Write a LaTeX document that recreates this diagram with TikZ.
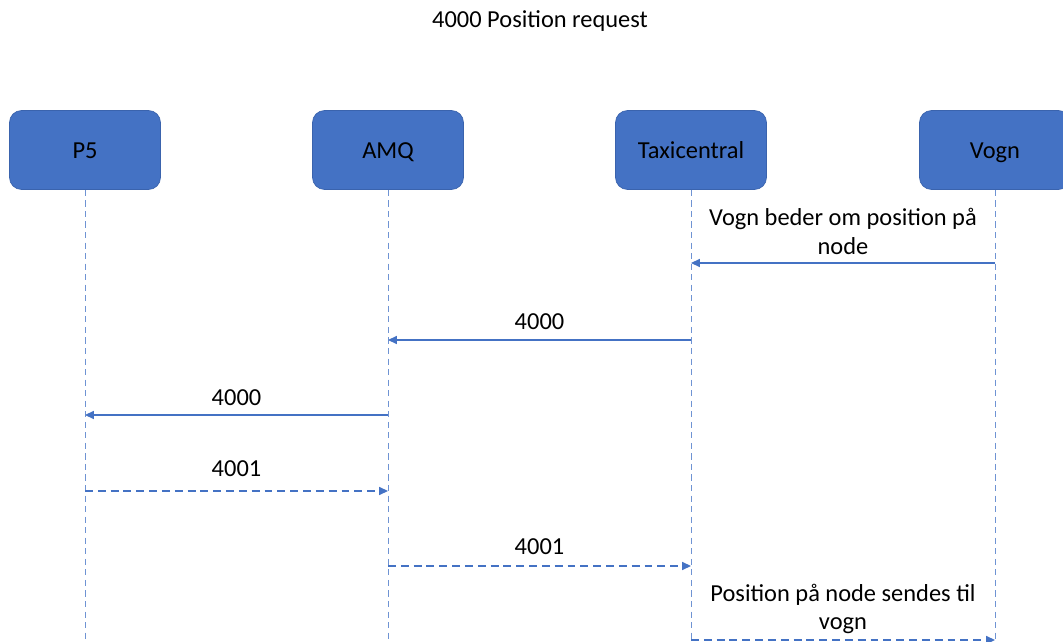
\documentclass[tikz,border=0pt]{standalone}
\usepackage{fontspec}
\setmainfont{Carlito}
\usetikzlibrary{arrows.meta,positioning}
\definecolor{boxblue}{HTML}{4472C4}
\definecolor{boxedge}{HTML}{3A63AD}
\definecolor{lifeblue}{HTML}{6F93D3}

\begin{document}
\begin{tikzpicture}[x=0.02cm,y=-0.02cm]
\tikzstyle{every node}+=[font=\fontsize{13.9}{16.2}\selectfont]
\tikzstyle{actor}=[draw=boxedge, fill=boxblue, rounded corners=0.24cm, minimum width=3.02cm, minimum height=1.58cm, inner sep=0pt, text height=10pt, text depth=0.4pt]
\tikzstyle{lifeline}=[lifeblue, line width=0.5pt, dash pattern=on 3.5pt off 2.5pt]
\tikzstyle{msg}=[boxblue, line width=0.85pt, -{Triangle[length=5pt,width=4.5pt]}]
\tikzstyle{reply}=[msg, dash pattern=on 4.5pt off 2.8pt]
\tikzstyle{lbl}=[black, above, inner sep=5pt, align=center]
\useasboundingbox (0,0) rectangle (1063,642);

\node (title) at (540,21) {4000 Position request};

% actors
\node[actor] (p5) at (85,150) {P5};
\node[actor] (amq) at (388,150) {AMQ};
\node[actor] (taxi) at (691,150) {Taxicentral};
\node[actor] (vogn) at (995,150) {Vogn};

% lifelines
\foreach \a in {p5,amq,taxi,vogn}
  \coordinate (\a end) at (\a.south |- 0,642);
\foreach \a in {p5,amq,taxi,vogn}
  \draw[lifeline] (\a.south) -- (\a end);

% message points
\foreach \a in {p5,amq,taxi,vogn} {
  \coordinate (\a m1) at (\a.south |- 0,263);
  \coordinate (\a m2) at (\a.south |- 0,340);
  \coordinate (\a m3) at (\a.south |- 0,415);
  \coordinate (\a m4) at (\a.south |- 0,491);
  \coordinate (\a m5) at (\a.south |- 0,566);
  \coordinate (\a m6) at (\a.south |- 0,640);
}

% messages
\draw[msg] (vognm1) -- (taxim1) node[lbl, midway, inner sep=4.5pt] {Vogn beder om position på\\node};
\draw[msg] (taxim2) -- (amqm2) node[lbl, midway, inner sep=5.4pt] {4000};
\draw[msg] (amqm3) -- (p5m3) node[lbl, midway, inner sep=4.9pt] {4000};
\draw[reply] (p5m4) -- (amqm4) node[lbl, midway, inner sep=7.7pt] {4001};
\draw[reply] (amqm5) -- (taxim5) node[lbl, midway, inner sep=6pt] {4001};
\draw[reply] (taxim6) -- (vognm6) node[lbl, midway, inner sep=3pt] {Position på node sendes til\\vogn};
\end{tikzpicture}
\end{document}
